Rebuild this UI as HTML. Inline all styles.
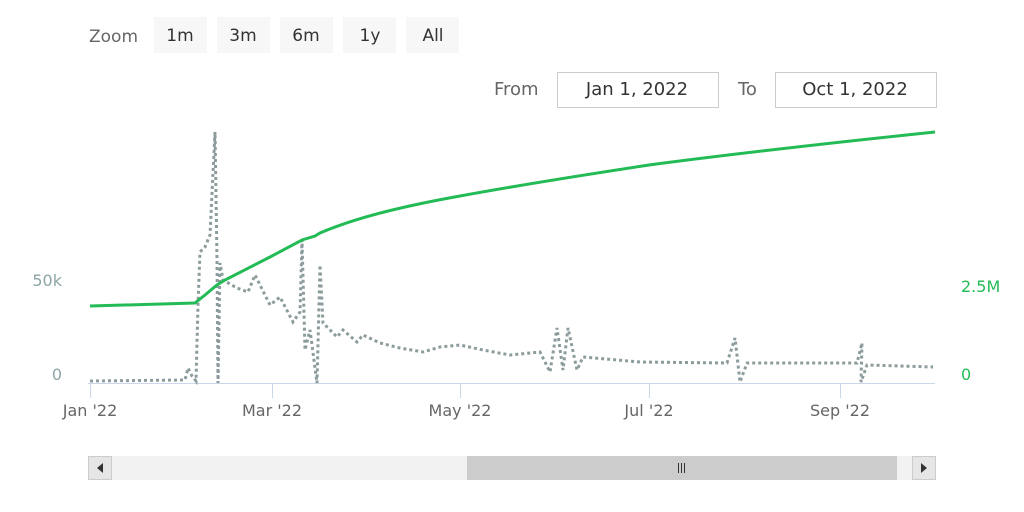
<!DOCTYPE html><html><head><style>body{margin:0;background:#fff}svg{display:block}text{font-family:"DejaVu Sans","Liberation Sans",sans-serif}</style></head><body>
<svg width="1024" height="512" xmlns="http://www.w3.org/2000/svg">
<rect width="1024" height="512" fill="#fff"/>
<text x="89" y="42" font-size="17" fill="#666">Zoom</text>
<g font-size="17" fill="#333" text-anchor="middle">
<rect x="154" y="17" width="53" height="36" fill="#f7f7f7"/><text x="180" y="41">1m</text>
<rect x="217" y="17" width="53" height="36" fill="#f7f7f7"/><text x="243" y="41">3m</text>
<rect x="280" y="17" width="53" height="36" fill="#f7f7f7"/><text x="306" y="41">6m</text>
<rect x="343" y="17" width="53" height="36" fill="#f7f7f7"/><text x="370" y="41">1y</text>
<rect x="406" y="17" width="53" height="36" fill="#f7f7f7"/><text x="433" y="41">All</text>
</g>
<text x="494" y="95" font-size="18" fill="#666">From</text>
<rect x="557.5" y="72.5" width="161" height="35" fill="#fff" stroke="#ccc"/>
<text x="637" y="95" font-size="18" fill="#333" text-anchor="middle">Jan 1, 2022</text>
<text x="738" y="95" font-size="18" fill="#666">To</text>
<rect x="775.5" y="72.5" width="161" height="35" fill="#fff" stroke="#ccc"/>
<text x="855" y="95" font-size="18" fill="#333" text-anchor="middle">Oct 1, 2022</text>
<line x1="88" y1="383.5" x2="935" y2="383.5" stroke="#ccd6eb"/>
<g stroke="#ccd6eb"><line x1="90.5" y1="383" x2="90.5" y2="398"/><line x1="272.5" y1="383" x2="272.5" y2="398"/><line x1="460.5" y1="383" x2="460.5" y2="398"/><line x1="649.5" y1="383" x2="649.5" y2="398"/><line x1="840.5" y1="383" x2="840.5" y2="398"/></g>
<g font-size="16" fill="#666" text-anchor="middle"><text x="90" y="416">Jan '22</text><text x="272" y="416">Mar '22</text><text x="460" y="416">May '22</text><text x="649" y="416">Jul '22</text><text x="840" y="416">Sep '22</text></g>
<g font-size="16" fill="#8ea5a8" text-anchor="end"><text x="62" y="286">50k</text><text x="62" y="380">0</text></g>
<g font-size="16" fill="#22bb55"><text x="961" y="292">2.5M</text><text x="961" y="380">0</text></g>
<polyline fill="none" stroke="#8c9c9c" stroke-width="3" stroke-dasharray="3,3" points="90,381 185,380 188,368 192,376 196,381 198,305 200,252 205,247 210,235 215,132 217,260 218,383 220,263 223,280 237,288 248,292 255,275 270,305 280,297 293,322 300,312 302,240 305,350 310,330 317,383 320,265 323,323 337,337 343,330 357,342 363,335 380,343 400,348 423,352 440,347 460,345 483,350 510,355 540,352 550,372 557,328 563,370 568,328 577,370 583,357 640,362 727,363 735,338 740,382 747,363 857,363 862,343 861,382 867,365 933,367"/>
<path fill="none" stroke="#22bb55" stroke-width="3" d="M90,306 L195,303 L205,295 L217,285 L225,280 L270,257 L302,240 L315,236 L320,233 C360,216 410,205 460,196 C520,185 590,174 649,165 C740,153 820,144 935,132"/>
<rect x="88" y="456" width="847" height="24" fill="#f2f2f2"/>
<rect x="88.5" y="456.5" width="23" height="23" fill="#e6e6e6" stroke="#ccc"/>
<path d="M103,463 L97,468 L103,473Z" fill="#333"/>
<rect x="912.5" y="456.5" width="23" height="23" fill="#e6e6e6" stroke="#ccc"/>
<path d="M921,463 L927,468 L921,473Z" fill="#333"/>
<rect x="467" y="456" width="430" height="24" fill="#ccc"/>
<g stroke="#333"><line x1="678.5" y1="463" x2="678.5" y2="473"/><line x1="681.5" y1="463" x2="681.5" y2="473"/><line x1="684.5" y1="463" x2="684.5" y2="473"/></g>
</svg>
</body></html>
